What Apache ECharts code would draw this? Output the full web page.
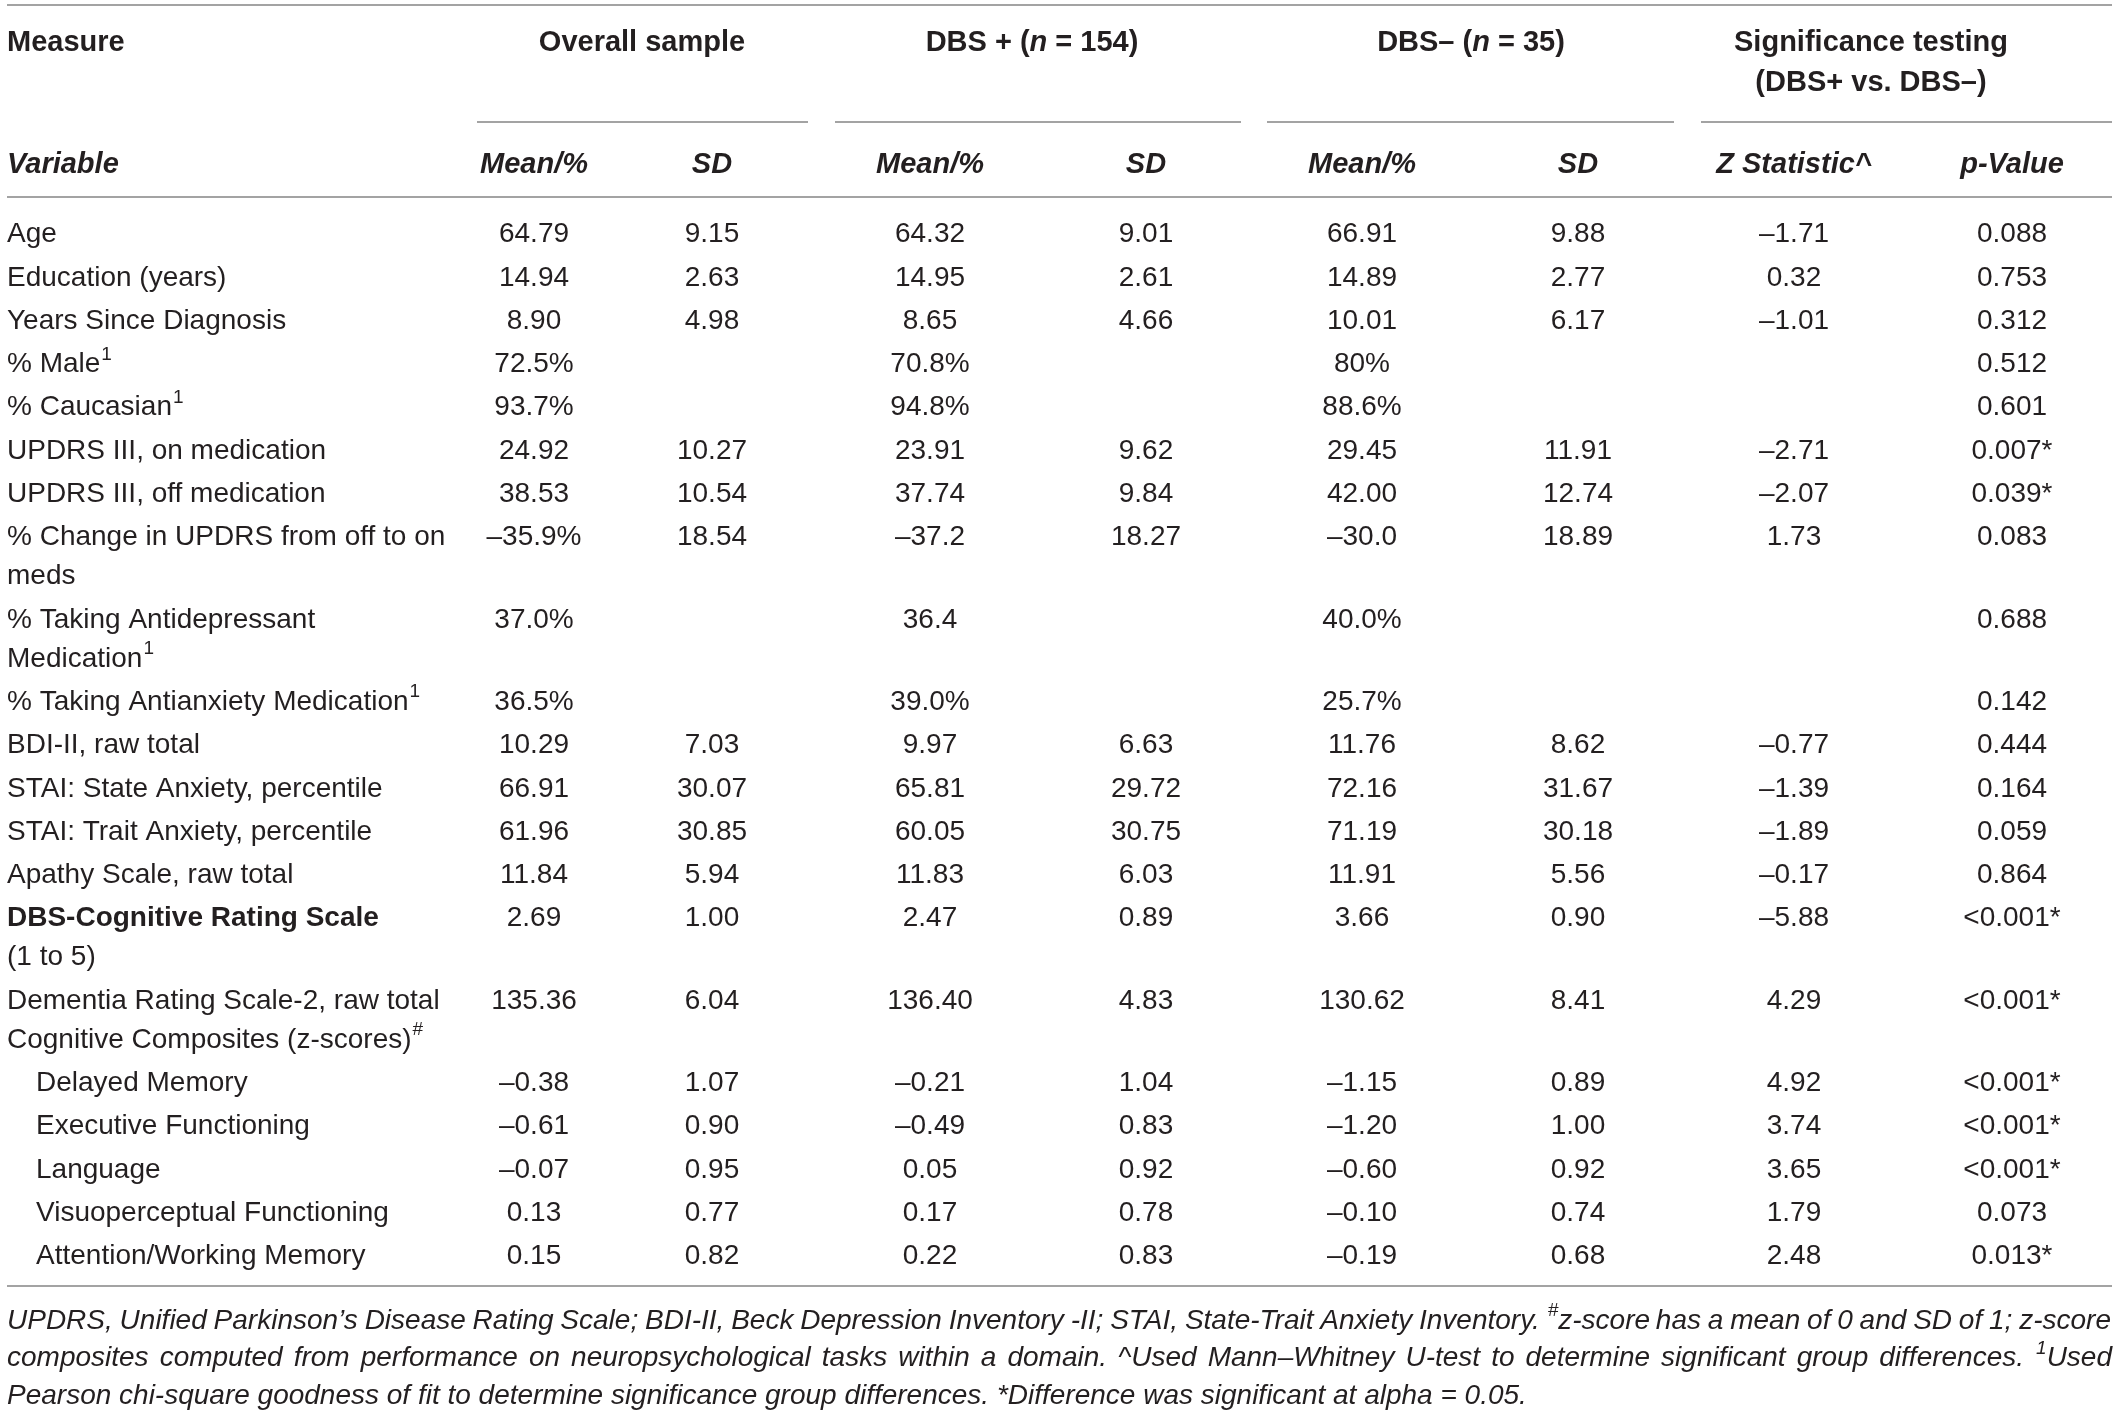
<!DOCTYPE html>
<html><head><meta charset="utf-8">
<script src="https://cdn.jsdelivr.net/npm/echarts@6/dist/echarts.min.js"></script>
<style>html,body{margin:0;padding:0;background:#fff}#c{width:2119px;height:1414px}</style>
</head><body><div id="c"></div>
<script>
// ---------- DATA ----------
const measureLabels = [
  ["Age"],
  ["Education (years)"],
  ["Years Since Diagnosis"],
  ["% Male{{1}}"],
  ["% Caucasian{{1}}"],
  ["UPDRS III, on medication"],
  ["UPDRS III, off medication"],
  ["% Change in UPDRS from off to on", "meds"],
  ["% Taking Antidepressant", "Medication{{1}}"],
  ["% Taking Antianxiety Medication{{1}}"],
  ["BDI-II, raw total"],
  ["STAI: State Anxiety, percentile"],
  ["STAI: Trait Anxiety, percentile"],
  ["Apathy Scale, raw total"],
  ["<<DBS-Cognitive Rating Scale>>", "(1 to 5)"],
  ["Dementia Rating Scale-2, raw total", "Cognitive Composites (z-scores){{#}}"],
  ["Delayed Memory"],
  ["Executive Functioning"],
  ["Language"],
  ["Visuoperceptual Functioning"],
  ["Attention/Working Memory"]
];
const subMeasures = ["Delayed Memory","Executive Functioning","Language","Visuoperceptual Functioning","Attention/Working Memory"];
const overallMean = ["64.79","14.94","8.90","72.5%","93.7%","24.92","38.53","–35.9%","37.0%","36.5%","10.29","66.91","61.96","11.84","2.69","135.36","–0.38","–0.61","–0.07","0.13","0.15"];
const overallSD   = ["9.15","2.63","4.98","","","10.27","10.54","18.54","","","7.03","30.07","30.85","5.94","1.00","6.04","1.07","0.90","0.95","0.77","0.82"];
const plusMean    = ["64.32","14.95","8.65","70.8%","94.8%","23.91","37.74","–37.2","36.4","39.0%","9.97","65.81","60.05","11.83","2.47","136.40","–0.21","–0.49","0.05","0.17","0.22"];
const plusSD      = ["9.01","2.61","4.66","","","9.62","9.84","18.27","","","6.63","29.72","30.75","6.03","0.89","4.83","1.04","0.83","0.92","0.78","0.83"];
const minusMean   = ["66.91","14.89","10.01","80%","88.6%","29.45","42.00","–30.0","40.0%","25.7%","11.76","72.16","71.19","11.91","3.66","130.62","–1.15","–1.20","–0.60","–0.10","–0.19"];
const minusSD     = ["9.88","2.77","6.17","","","11.91","12.74","18.89","","","8.62","31.67","30.18","5.56","0.90","8.41","0.89","1.00","0.92","0.74","0.68"];
const zStatistic  = ["–1.71","0.32","–1.01","","","–2.71","–2.07","1.73","","","–0.77","–1.39","–1.89","–0.17","–5.88","4.29","4.92","3.74","3.65","1.79","2.48"];
const pValue      = ["0.088","0.753","0.312","0.512","0.601","0.007*","0.039*","0.083","0.688","0.142","0.444","0.164","0.059","0.864","<0.001*","<0.001*","<0.001*","<0.001*","<0.001*","0.073","0.013*"];
const groupHeaders = ["Overall sample", "DBS + ([[n]] = 154)", "DBS– ([[n]] = 35)", "Significance testing|(DBS+ vs. DBS–)"];
const columnHeaders = ["Mean/%", "SD", "Mean/%", "SD", "Mean/%", "SD", "Z Statistic^", "p-Value"];
const footnoteLines = [
  "UPDRS, Unified Parkinson’s Disease Rating Scale; BDI-II, Beck Depression Inventory -II; STAI, State-Trait Anxiety Inventory. {{#}}z-score has a mean of 0 and SD of 1; z-score",
  "composites computed from performance on neuropsychological tasks within a domain. ^Used Mann–Whitney U-test to determine significant group differences. {{1}}Used",
  "Pearson chi-square goodness of fit to determine significance group differences. *Difference was significant at alpha = 0.05."
];

// ---------- LAYOUT / STYLE ----------
const FAMILY = '"Liberation Sans", Arial, Helvetica, sans-serif';
const FS = 28, FH = 29, FN = 28;
const INK = '#231f20', RULE = '#a3a3a3';
const LEFT = 7, RIGHT = 2112;
const colX = [534, 712, 930, 1146, 1362, 1578, 1794, 2012];
const groupSpans = [[477, 808], [835, 1241], [1267, 1674], [1701, 2112]];
const groupCenters = [642, 1032, 1471, 1871];

const ctx = document.createElement('canvas').getContext('2d');
function fstr(s) { return (s.italic ? 'italic ' : '') + (s.bold ? 'bold ' : '') + s.size + 'px ' + FAMILY; }
function mw(t, s) { ctx.font = fstr(s); return ctx.measureText(t).width; }

// parse "{{sup}}", "[[italic]]", "<<bold>>"
function parse(str, base) {
  const out = [];
  const re = /\{\{(.*?)\}\}|\[\[(.*?)\]\]|<<(.*?)>>/g;
  let last = 0, m;
  while ((m = re.exec(str))) {
    if (m.index > last) out.push({ t: str.slice(last, m.index), s: Object.assign({}, base) });
    if (m[1] !== undefined) out.push({ t: m[1], s: Object.assign({}, base, { size: Math.round(base.size * 0.68) }), sup: true, base: base.size });
    else if (m[2] !== undefined) out.push({ t: m[2], s: Object.assign({}, base, { italic: true }) });
    else out.push({ t: m[3], s: Object.assign({}, base, { bold: true }) });
    last = re.lastIndex;
  }
  if (last < str.length) out.push({ t: str.slice(last), s: Object.assign({}, base) });
  return out;
}
function segW(segs) { return segs.reduce((a, g) => a + mw(g.t, g.s), 0); }

const els = [];
function drawSegs(segs, x, y, align) {
  let x0 = x;
  const w = segW(segs);
  if (align === 'center') x0 = x - w / 2;
  else if (align === 'right') x0 = x - w;
  segs.forEach(g => {
    els.push({
      type: 'text', silent: true, x: x0 + (g.sup ? 1 : 0), y: g.sup ? y - g.base * 0.36 : y,
      style: {
        text: g.t, fill: INK,
        fontSize: g.s.size, fontFamily: FAMILY,
        fontWeight: g.s.bold ? 'bold' : 'normal', fontStyle: g.s.italic ? 'italic' : 'normal',
        align: 'left', verticalAlign: 'middle', textAlign: 'left', textVerticalAlign: 'middle'
      }
    });
    x0 += mw(g.t, g.s) + (g.sup ? 1 : 0);
  });
}
function rule(x1, x2, y, w) {
  els.push({ type: 'line', silent: true, shape: { x1: x1, y1: y, x2: x2, y2: y }, style: { stroke: RULE, lineWidth: w || 2 } });
}

// header
const hb = { size: FH, bold: true };
const hbi = { size: FH, bold: true, italic: true };
rule(LEFT, RIGHT, 5);
drawSegs(parse("Measure", hb), LEFT, 43, 'left');
groupHeaders.forEach((h, i) => {
  h.split('|').forEach((ln, k) => drawSegs(parse(ln, hb), groupCenters[i], 43 + k * 40, 'center'));
  rule(groupSpans[i][0], groupSpans[i][1], 122);
});
drawSegs(parse("Variable", hbi), LEFT, 165, 'left');
columnHeaders.forEach((h, i) => drawSegs(parse(h, hbi), colX[i], 165, 'center'));
rule(LEFT, RIGHT, 197);

// body
const body = { size: FS };
const cols = [overallMean, overallSD, plusMean, plusSD, minusMean, minusSD, zStatistic, pValue];
let y = 234.5;
measureLabels.forEach((lines, r) => {
  const indent = subMeasures.indexOf(lines[0]) >= 0 ? 29 : 0;
  lines.forEach((ln, k) => drawSegs(parse(ln, body), LEFT + indent, y + k * 39, 'left'));
  cols.forEach((c, i) => { if (c[r]) drawSegs(parse(c[r], body), colX[i], y, 'center'); });
  y += 43.3 + 39 * (lines.length - 1);
});
rule(LEFT, RIGHT, 1286);

// footnotes (first two lines justified)
const fb = { size: FN, italic: true };
footnoteLines.forEach((ln, k) => {
  const fy = 1321 + k * 37.5;
  const words = ln.split(' ').map(w => parse(w, fb));
  if (k < footnoteLines.length - 1) {
    const total = words.reduce((a, w) => a + segW(w), 0);
    const gap = (RIGHT - 1 - LEFT - total) / (words.length - 1);
    let x = LEFT;
    words.forEach(w => { drawSegs(w, x, fy, 'left'); x += segW(w) + gap; });
  } else {
    drawSegs(parse(ln, fb), LEFT, fy, 'left');
  }
});

const chart = echarts.init(document.getElementById('c'), null, { renderer: 'canvas' });
chart.setOption({ backgroundColor: '#ffffff', animation: false, graphic: { elements: els } });
</script></body></html>
